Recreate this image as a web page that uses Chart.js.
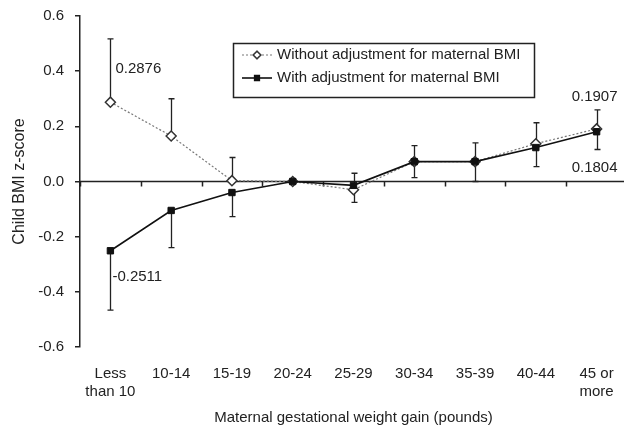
<!DOCTYPE html>
<html>
<head>
<meta charset="utf-8">
<script src="https://cdn.jsdelivr.net/npm/chart.js@4.4.0/dist/chart.umd.min.js"></script>
<style>
  html, body { margin: 0; padding: 0; background: #fff; overflow: hidden; }
</style>
</head>
<body>
<canvas id="bmiChart" width="640" height="430"></canvas>
<script>
const categories = [["Less", "than 10"], "10-14", "15-19", "20-24", "25-29", "30-34", "35-39", "40-44", ["45 or", "more"]];
const withoutAdjustment = [0.2876, 0.165, 0.003, 0, -0.03, 0.072, 0.072, 0.137, 0.1907];
const withAdjustment = [-0.2511, -0.105, -0.04, 0, -0.014, 0.072, 0.072, 0.123, 0.1804];
// upper CI limit for the unadjusted series, lower limit for the adjusted one
const withoutUpper = [0.517, 0.30, 0.087, null, 0.03, 0.13, 0.14, 0.213, 0.26];
const withLower = [-0.466, -0.24, -0.127, null, -0.076, 0.014, 0.0, 0.054, 0.116];
const yTicks = [-0.6, -0.4, -0.2, 0, 0.2, 0.4, 0.6];
// which points get their value written next to them
const labelledWithout = [0, 8];
const labelledWith = [0, 8];

const ink = "#222";
const font = "'Liberation Sans', Arial, sans-serif";

// zero line with category ticks, plus the one-sided error bars
const errorBars = {
    id: "errorBars",
    beforeDatasetsDraw(chart) {
        const ctx = chart.ctx;
        const x = chart.scales.x;
        const y = chart.scales.y;
        const area = chart.chartArea;
        const y0 = y.getPixelForValue(0);
        const step = x.getPixelForValue(1) - x.getPixelForValue(0);

        ctx.save();
        ctx.strokeStyle = ink;
        ctx.lineWidth = 1.5;
        ctx.beginPath();
        ctx.moveTo(area.left, y0);
        ctx.lineTo(area.right, y0);
        for (let i = 0; i <= categories.length; i++) {
            const tx = Math.round(x.getPixelForValue(i) - step / 2) + 0.5;
            ctx.moveTo(tx, y0);
            ctx.lineTo(tx, y0 + 5);
        }
        ctx.stroke();

        const bars = [[withoutAdjustment, withoutUpper], [withAdjustment, withLower]];
        ctx.lineWidth = 1.3;
        bars.forEach(([values, limits]) => {
            values.forEach((v, i) => {
                if (limits[i] === null) return;
                const px = Math.round(x.getPixelForValue(i)) + 0.5;
                const py1 = y.getPixelForValue(v);
                const py2 = y.getPixelForValue(limits[i]);
                ctx.beginPath();
                ctx.moveTo(px, py1);
                ctx.lineTo(px, py2);
                ctx.moveTo(px - 3, py2);
                ctx.lineTo(px + 3, py2);
                ctx.stroke();
            });
        });
        ctx.restore();
    }
};

// value labels and the boxed legend
const annotations = {
    id: "annotations",
    afterDraw(chart) {
        const ctx = chart.ctx;
        const x = chart.scales.x;
        const y = chart.scales.y;
        ctx.save();
        ctx.fillStyle = ink;
        ctx.font = "15px " + font;
        ctx.textBaseline = "middle";

        labelledWithout.forEach(i => {
            const px = x.getPixelForValue(i);
            const py = y.getPixelForValue(withoutAdjustment[i]);
            if (i === 0) {
                ctx.textAlign = "left";
                ctx.fillText(withoutAdjustment[i].toFixed(4), px + 5, py - 33);
            } else {
                ctx.textAlign = "center";
                ctx.fillText(withoutAdjustment[i].toFixed(4), px - 2, py - 32);
            }
        });
        labelledWith.forEach(i => {
            const px = x.getPixelForValue(i);
            const py = y.getPixelForValue(withAdjustment[i]);
            if (i === 0) {
                ctx.textAlign = "left";
                ctx.fillText(withAdjustment[i].toFixed(4), px + 2, py + 26);
            } else {
                ctx.textAlign = "center";
                ctx.fillText(withAdjustment[i].toFixed(4), px - 2, py + 36);
            }
        });

        // legend box
        ctx.strokeStyle = ink;
        ctx.lineWidth = 1.5;
        ctx.strokeRect(233.5, 43.5, 301, 54);
        ctx.textAlign = "left";
        chart.data.datasets.forEach((ds, k) => {
            const ly = 55 + k * 23;
            ctx.strokeStyle = ds.borderColor;
            ctx.lineWidth = ds.borderWidth;
            ctx.setLineDash(ds.borderDash || []);
            ctx.beginPath();
            ctx.moveTo(242, ly);
            ctx.lineTo(272, ly);
            ctx.stroke();
            ctx.setLineDash([]);
            Chart.helpers.drawPoint(ctx, {
                pointStyle: ds.pointStyle,
                radius: ds.pointRadius - 1.2,
                rotation: 0,
                borderWidth: ds.pointBorderWidth
            }, 257, ly);
            ctx.fillStyle = ds.pointBackgroundColor;
            ctx.strokeStyle = ds.pointBorderColor;
            ctx.lineWidth = ds.pointBorderWidth;
            ctx.fill();
            ctx.stroke();
            ctx.fillStyle = ink;
            ctx.fillText(ds.label, 277, ly);
        });
        ctx.restore();
    }
};

new Chart(document.getElementById("bmiChart"), {
    type: "line",
    data: {
        labels: categories,
        datasets: [{
            label: "Without adjustment for maternal BMI",
            data: withoutAdjustment,
            borderColor: "#777",
            borderWidth: 1.2,
            borderDash: [2, 2],
            pointStyle: "rectRot",
            pointRadius: 5,
            pointBorderWidth: 1.5,
            pointBackgroundColor: "#fff",
            pointBorderColor: "#333",
            order: 2
        }, {
            label: "With adjustment for maternal BMI",
            data: withAdjustment,
            borderColor: "#111",
            borderWidth: 1.6,
            pointStyle: "rect",
            pointRadius: 4.5,
            pointBorderWidth: 1,
            pointBackgroundColor: "#111",
            pointBorderColor: "#111",
            order: 1
        }]
    },
    options: {
        responsive: false,
        animation: false,
        layout: { padding: { top: 16, right: 13, left: 0, bottom: 0 } },
        plugins: {
            legend: { display: false },
            tooltip: { enabled: false }
        },
        scales: {
            x: {
                offset: true,
                grid: { display: false, drawTicks: false },
                border: { display: false },
                ticks: {
                    color: ink,
                    font: { family: font, size: 15, lineHeight: 1.25 },
                    padding: 17,
                    maxRotation: 0,
                    autoSkip: false
                },
                title: {
                    display: true,
                    text: "Maternal gestational weight gain (pounds)",
                    color: ink,
                    font: { family: font, size: 15 },
                    padding: { top: 0, bottom: 3 }
                },
                afterFit(scale) { scale.height = 83; }
            },
            y: {
                min: -0.6,
                max: 0.6,
                afterBuildTicks(scale) { scale.ticks = yTicks.map(v => ({ value: v })); },
                grid: { drawOnChartArea: false, drawTicks: true, tickLength: 5, color: ink, lineWidth: 1.5 },
                border: { display: true, color: ink, width: 1.5 },
                ticks: {
                    color: ink,
                    font: { family: font, size: 15 },
                    padding: 11,
                    callback: v => v.toFixed(1)
                },
                title: {
                    display: true,
                    text: "Child BMI z-score",
                    color: ink,
                    font: { family: font, size: 16 },
                    padding: { top: 10, bottom: 8 }
                },
                afterFit(scale) {
                    scale.width = 80;
                    scale.paddingTop = 0;
                    scale.paddingBottom = 0;
                }
            }
        }
    },
    plugins: [errorBars, annotations]
});
</script>
</body>
</html>
